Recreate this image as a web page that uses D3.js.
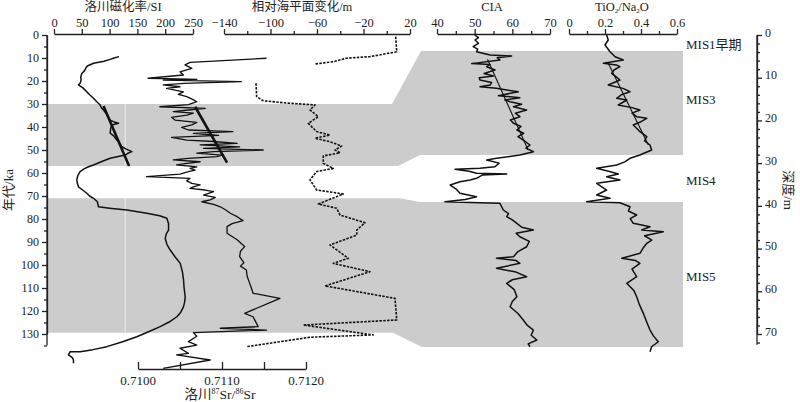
<!DOCTYPE html>
<html><head><meta charset="utf-8">
<script src="https://cdn.jsdelivr.net/npm/d3@7"></script>
<style>
body{margin:0;background:#fff}
svg{display:block}
text{font-family:"Liberation Serif","Noto Sans CJK SC",serif;fill:#222}
</style>
</head><body>
<svg id="c" width="800" height="402"></svg>
<script>
// ---------------- DATA ----------------
// magnetic susceptibility (age ka, SI)
const msData = [[9.4,117],[10.0,108],[10.6,101],[11.4,90],[12.3,71],[13.5,60],[14.5,57],[15.5,55],[16.7,50],[18.5,48],[19.5,49],[21.0,47],[21.7,44],[23.0,52],[24.7,59],[26.0,64],[27.5,71],[29.0,77],[30.4,83],[31.5,85],[32.6,89],[34.5,95],[37.0,101],[37.8,108],[38.4,116],[39.1,104],[40.5,102],[42.7,101],[44.0,108],[45.7,113],[47.0,118],[48.6,122],[49.6,130],[50.7,140],[51.3,134],[52.2,128],[53.6,101],[55.0,86],[56.5,71],[57.3,62],[58.2,54],[59.4,47],[61.0,43],[63.0,41],[64.5,42],[66.0,44],[67.5,52],[68.8,59],[70.0,64],[71.0,71],[72.5,78],[74.7,80],[75.3,100],[76.1,131],[77.5,167],[78.6,190],[79.7,203],[82.0,206],[84.8,206],[86.5,202],[88.4,200],[91.0,203],[93.5,209],[96.5,218],[99.3,227],[103.0,231],[106.5,233],[110.0,234],[113.8,236],[116.0,235],[118.1,233],[120.5,228],[122.5,221],[124.8,207],[126.8,191],[129.0,170],[131.2,149],[133.5,122],[135.5,95],[136.8,70],[137.7,47],[137.7,29],[139.1,26],[140.3,33],[141.3,35],[142.7,35]];
const msTrend = [[30.9,89],[57.0,135]];
// Luochuan 87Sr/86Sr (age ka, ratio)
const srData = [[10.1,0.71153],[11.9,0.71062],[13.0,0.71056],[14.5,0.71064],[16.0,0.71050],[17.4,0.71054],[18.8,0.71012],[19.3,0.71070],[19.6,0.71030],[20.3,0.71123],[21.0,0.71055],[21.7,0.71030],[22.5,0.71050],[23.2,0.71034],[24.7,0.71054],[25.8,0.71048],[26.8,0.71058],[28.0,0.71065],[29.0,0.71070],[30.3,0.71060],[31.2,0.71026],[31.9,0.71080],[32.6,0.71060],[33.3,0.71042],[34.0,0.71066],[34.8,0.71058],[35.8,0.71040],[37.0,0.71044],[38.0,0.71070],[39.1,0.71064],[40.2,0.71052],[41.3,0.71060],[42.0,0.71113],[42.8,0.71066],[43.6,0.71096],[44.5,0.71040],[45.7,0.71058],[46.3,0.71090],[47.1,0.71118],[47.8,0.71074],[48.6,0.71121],[49.3,0.71078],[50.0,0.71149],[50.7,0.71090],[51.4,0.71070],[52.2,0.71100],[52.9,0.71094],[53.6,0.71060],[54.3,0.71042],[55.1,0.71074],[55.8,0.71058],[56.5,0.71046],[57.3,0.71070],[58.0,0.71062],[58.7,0.71068],[59.4,0.71060],[60.5,0.71050],[61.6,0.71010],[62.3,0.71062],[63.4,0.71058],[64.5,0.71064],[65.2,0.71074],[66.0,0.71066],[66.7,0.71062],[67.4,0.71080],[68.1,0.71090],[69.6,0.71078],[70.6,0.71092],[71.7,0.71086],[72.5,0.71076],[73.6,0.71090],[74.7,0.71098],[76.0,0.71104],[77.5,0.71110],[79.0,0.71118],[80.7,0.71125],[82.0,0.71112],[83.3,0.71106],[86.2,0.71106],[89.0,0.71118],[92.0,0.71127],[94.0,0.71122],[96.4,0.71121],[99.0,0.71126],[100.5,0.71122],[102.2,0.71129],[105.0,0.71130],[108.0,0.71133],[110.0,0.71135],[112.3,0.71137],[114.5,0.71169],[121.0,0.71127],[122.5,0.71137],[126.8,0.71143],[127.5,0.71098],[128.3,0.71153],[129.4,0.71066],[131.0,0.71070],[133.3,0.71060],[134.8,0.71070],[136.2,0.71050],[138.4,0.71060],[139.1,0.71046],[141.3,0.71086],[144.9,0.71030]];
const srTrend = [[31.2,0.71068],[55.5,0.71106]];
// relative sea level (age ka, m) - two segments
const seaA = [[0.7,7.7],[7.3,8.6],[9.4,-14.4],[10.1,-34.5],[11.6,-46.0],[12.6,-61.7]];
const seaB = [[21.0,-112.5],[26.8,-111.9],[28.6,-106.2],[29.7,-83.2],[30.4,-61.7],[32.6,-66.0],[35.5,-58.9],[38.4,-67.5],[42.0,-60.3],[43.5,-48.8],[44.9,-61.7],[46.4,-48.8],[48.3,-38.8],[50.0,-44.5],[51.2,-40.2],[52.6,-54.6],[55.8,-54.6],[58.0,-46.0],[59.4,-60.3],[63.0,-66.0],[67.4,-60.3],[69.1,-37.4],[73.5,-58.9],[75.3,-43.1],[78.3,-40.2],[81.6,-18.7],[84.8,-25.8],[87.0,-25.8],[91.3,-48.8],[97.1,-33.1],[99.3,-46.0],[102.9,-14.4],[109.1,-53.1],[114.5,7.1],[123.9,8.6],[126.1,-71.8],[130.4,-11.6],[131.4,-66.0],[135.5,-120.5]];
// CIA (depth m, value)
const ciaData = [[0.0,50.0],[0.6,51.0],[1.17,50.1],[1.94,51.0],[2.74,49.6],[3.3,50.8],[3.91,50.5],[4.68,54.1],[4.92,59.8],[5.3,56.0],[5.85,56.7],[6.7,49.2],[6.9,54.1],[7.42,53.2],[8.19,55.4],[9.0,52.5],[9.6,55.0],[10.0,51.2],[10.54,51.4],[11.1,54.5],[11.71,54.1],[12.10,51.4],[12.48,55.8],[12.88,58.5],[13.28,61.6],[14.2,56.3],[14.7,62.0],[15.2,58.0],[15.62,59.4],[16.2,62.5],[16.79,60.3],[17.56,63.8],[18.3,60.8],[19.13,62.0],[19.9,59.5],[20.67,60.3],[21.4,62.3],[22.24,61.2],[23.0,63.0],[23.8,61.5],[24.59,62.9],[25.75,64.7],[26.5,63.6],[27.32,65.6],[28.10,62.0],[28.87,55.8],[29.27,53.2],[30.0,56.5],[30.84,55.4],[31.21,51.4],[31.44,44.8],[31.9,48.5],[32.38,50.5],[32.55,58.5],[32.8,52.0],[33.55,50.5],[33.95,48.8],[34.35,46.1],[35.12,43.5],[36.0,45.0],[37.06,46.1],[37.86,50.5],[38.5,47.5],[39.03,42.1],[39.26,51.4],[39.41,56.7],[40.97,57.6],[41.8,59.0],[42.54,58.5],[43.3,60.0],[44.09,61.2],[45.0,62.5],[45.66,65.6],[46.4,61.0],[47.23,62.0],[48.3,64.5],[49.57,63.8],[50.7,61.5],[51.91,60.3],[52.28,55.8],[52.8,61.0],[53.45,62.0],[54.62,55.8],[55.5,61.0],[56.59,63.8],[57.3,60.0],[58.14,58.5],[59.6,60.5],[61.27,61.2],[62.4,60.0],[63.61,59.4],[65.2,61.5],[66.73,62.9],[68.0,64.0],[69.07,65.6],[70.3,65.0],[71.41,66.5],[72.3,64.2],[72.98,64.7]];
const ciaTrend = [[5.69,53.4],[26.93,64.2]];
// TiO2/Na2O (depth m, value)
const tiData = [[0,0.209],[1.17,0.218],[2.34,0.200],[3.91,0.228],[5.08,0.256],[5.85,0.302],[6.2,0.250],[6.63,0.191],[7.0,0.262],[7.42,0.283],[8.2,0.250],[8.97,0.237],[9.8,0.262],[10.54,0.283],[11.71,0.218],[12.5,0.300],[13.28,0.339],[14.0,0.290],[14.82,0.265],[15.22,0.321],[16.39,0.274],[17.0,0.350],[17.56,0.394],[18.3,0.350],[19.13,0.376],[19.50,0.432],[20.3,0.400],[21.07,0.357],[22.0,0.380],[22.64,0.394],[23.81,0.432],[24.8,0.420],[25.75,0.450],[26.93,0.459],[28.10,0.394],[28.87,0.339],[29.7,0.310],[30.44,0.265],[31.21,0.154],[32.0,0.230],[32.55,0.274],[33.18,0.209],[33.95,0.283],[34.72,0.154],[35.5,0.180],[36.29,0.209],[37.46,0.154],[38.23,0.228],[39.03,0.098],[39.26,0.283],[40.20,0.339],[41.2,0.330],[42.14,0.376],[43.0,0.340],[44.09,0.357],[44.88,0.450],[45.66,0.404],[46.05,0.524],[47.0,0.420],[48.0,0.460],[48.77,0.432],[50.0,0.410],[51.11,0.394],[52.28,0.293],[52.8,0.370],[53.45,0.394],[54.8,0.350],[56.59,0.376],[58.14,0.321],[59.8,0.360],[61.27,0.376],[63.0,0.390],[65.16,0.413],[67.0,0.430],[69.07,0.450],[70.5,0.470],[71.81,0.496],[72.98,0.459],[74.15,0.450]];
const tiTrend = [[6.63,0.218],[25.75,0.441]];
// MIS bands
const bandsAge = [[30,57],[71,129.5]];
const bandsDepth = [[3.75,28.1],[39.1,73.05]];
const misLabels = [["MIS1早期",2.3],["MIS3",15],["MIS4",34],["MIS5",56.5]]; // depth position
// tick values
const ageTicks = d3.range(0,131,10);
const depthTicks = d3.range(0,71,10);
const msTicks = [0,50,100,150,200,250];
const seaTicks = [-140,-100,-60,-20,20];
const ciaTicks = [40,50,60,70];
const tiTicks = [0,0.2,0.4,0.6];
const srTicks = [0.7100,0.7110,0.7120];

// ---------------- SCALES ----------------
const svg = d3.select("#c");
const yAge = d3.scaleLinear([0,130],[35,334]);
const yDep = d3.scaleLinear([0,70],[35,334]);
const xMS = d3.scaleLinear([0,250],[54,193]);
const xSea = d3.scaleLinear([-140,20],[224,410]);
const xCIA = d3.scaleLinear([40,70],[437,550]);
const xTi = d3.scaleLinear([0,0.6],[569,677]);
const xSr = d3.scaleLinear([0.7100,0.7120],[138,306]);
const GREY = "#cccccc";

// ---------------- BANDS ----------------
const leftX0 = 47, rightX1 = 683;
const bandShape = [
  {lt:392, rt:421, lb:398, rb:420},
  {lt:400, rt:420, lb:393, rb:422}
];
bandsAge.forEach((b,i)=>{
  const s = bandShape[i], d = bandsDepth[i];
  const pts = [[leftX0,yAge(b[0])],[s.lt,yAge(b[0])],[s.rt,yDep(d[0])],[rightX1,yDep(d[0])],
               [rightX1,yDep(d[1])],[s.rb,yDep(d[1])],[s.lb,yAge(b[1])],[leftX0,yAge(b[1])]];
  svg.append("path").attr("d","M"+pts.map(p=>p.join(",")).join("L")+"Z").attr("fill",GREY);
  svg.append("line").attr("x1",xMS(128)).attr("x2",xMS(128)).attr("y1",yAge(b[0])).attr("y2",yAge(b[1]))
     .attr("stroke","#eee").attr("stroke-width",1);
});

// ---------------- AXES ----------------
function topAxis(scale, ticks, minor){
  const g = svg.append("g").attr("transform","translate(0,34)");
  g.call(d3.axisTop(scale).tickValues(ticks).tickSize(5).tickSizeOuter(0).tickPadding(2)
    .tickFormat(d=>String(d).replace("-","\u2212")));
  if(minor) g.append("g").call(d3.axisTop(scale).tickValues(minor).tickSize(3).tickFormat(""))
    .select(".domain").remove();
  g.selectAll("text").attr("font-size",12.5).attr("fill","#222");
  g.selectAll("line,path").attr("stroke","#222").attr("stroke-width",1.3);
  return g;
}
topAxis(xMS, msTicks, null);
topAxis(xSea, seaTicks, [-120,-80,-40,0]);
topAxis(xCIA, ciaTicks, [45,55,65]);
topAxis(xTi, tiTicks, [0.1,0.3,0.5]);
svg.selectAll(".tick text").attr("font-family","Liberation Serif");

// Titles on top
svg.append("text").attr("x",123).attr("y",11).attr("text-anchor","middle").attr("font-size",12.5).text("洛川磁化率/SI");
svg.append("text").attr("x",302).attr("y",11).attr("text-anchor","middle").attr("font-size",12.5).text("相对海平面变化/m");
svg.append("text").attr("x",492).attr("y",11).attr("text-anchor","middle").attr("font-size",12.5).text("CIA");
const tt = svg.append("text").attr("x",622).attr("y",11).attr("text-anchor","middle").attr("font-size",12.5);
tt.append("tspan").text("TiO");
tt.append("tspan").attr("font-size",7).attr("dy",2).text("2");
tt.append("tspan").attr("dy",-2).text("/Na");
tt.append("tspan").attr("font-size",7).attr("dy",2).text("2");
tt.append("tspan").attr("dy",-2).text("O");

// Left age axis
const gL = svg.append("g").attr("transform","translate(47,0)");
gL.call(d3.axisLeft(yAge).tickValues(ageTicks).tickSize(5).tickSizeOuter(0).tickPadding(3));
gL.append("g").call(d3.axisLeft(yAge).tickValues(d3.range(5,136,10)).tickSize(3).tickFormat("")).select(".domain").remove();
gL.append("line").attr("x1",0).attr("x2",0).attr("y1",yAge(0)).attr("y2",yAge(135)).attr("stroke","#222").attr("stroke-width",1.3);
gL.selectAll("text").attr("font-size",12).attr("fill","#222");
gL.selectAll("line,path").attr("stroke","#222").attr("stroke-width",1.3);
svg.append("text").attr("transform","translate(13,190) rotate(-90)").attr("text-anchor","middle").attr("font-size",13).text("年代/ka");

// Right depth axis
const gR = svg.append("g").attr("transform","translate(757,0)");
gR.call(d3.axisRight(yDep).tickValues(depthTicks).tickSize(5).tickSizeOuter(0).tickPadding(3));
gR.append("g").call(d3.axisRight(yDep).tickValues(d3.range(2,73,2).filter(v=>v%10)).tickSize(3).tickFormat("")).select(".domain").remove();
gR.append("line").attr("x1",0).attr("x2",0).attr("y1",yDep(0)).attr("y2",yDep(72.5)).attr("stroke","#222").attr("stroke-width",1.3);
gR.selectAll("text").attr("font-size",12).attr("fill","#222").attr("dy","0.1em");
gR.selectAll("line,path").attr("stroke","#222").attr("stroke-width",1.3);
svg.append("text").attr("transform","translate(784,190) rotate(90)").attr("text-anchor","middle").attr("font-size",13).text("深度/m");

// Bottom Sr axis
const gB = svg.append("g").attr("transform","translate(0,369)");
gB.call(d3.axisTop(xSr).tickValues(d3.range(0,5).map(i=>0.7100+i*0.0005)).tickSize(7).tickSizeOuter(0).tickFormat(""));
gB.selectAll("line,path").attr("stroke","#222").attr("stroke-width",1.3);
srTicks.forEach(t=>svg.append("text").attr("x",xSr(t)).attr("y",385).attr("text-anchor","middle").attr("font-size",13).text(t.toFixed(4)));
const st = svg.append("text").attr("x",220).attr("y",399).attr("text-anchor","middle").attr("font-size",13.5);
st.append("tspan").text("洛川");
st.append("tspan").attr("font-size",8).attr("dy",-5).text("87");
st.append("tspan").attr("dy",5).text("Sr/");
st.append("tspan").attr("font-size",8).attr("dy",-5).text("86");
st.append("tspan").attr("dy",5).text("Sr");

// MIS labels
misLabels.forEach(([t,d])=>svg.append("text").attr("x",686).attr("y",yDep(d)).attr("dy","0.35em").attr("font-size",13).text(t));

// ---------------- CURVES ----------------
function draw(data, xs, ys, w, dash){
  const line = d3.line().x(d=>xs(d[1])).y(d=>ys(d[0]));
  const p = svg.append("path").attr("d",line(data)).attr("fill","none").attr("stroke","#111")
    .attr("stroke-width",w).attr("stroke-linejoin","round");
  if(dash) p.attr("stroke-dasharray",dash);
}
draw(msData, xMS, yAge, 1.5);
draw(msTrend, xMS, yAge, 2.6);
draw(srData, xSr, yAge, 1.3);
draw(srTrend, xSr, yAge, 2.6);
draw(seaA, xSea, yAge, 1.6, "2.5,1.3");
draw(seaB, xSea, yAge, 1.6, "2.5,1.3");
draw(ciaData, xCIA, yDep, 1.5);
draw(ciaTrend, xCIA, yDep, 1.1);
draw(tiData, xTi, yDep, 1.5);
draw(tiTrend, xTi, yDep, 1.1);
</script>
</body></html>
